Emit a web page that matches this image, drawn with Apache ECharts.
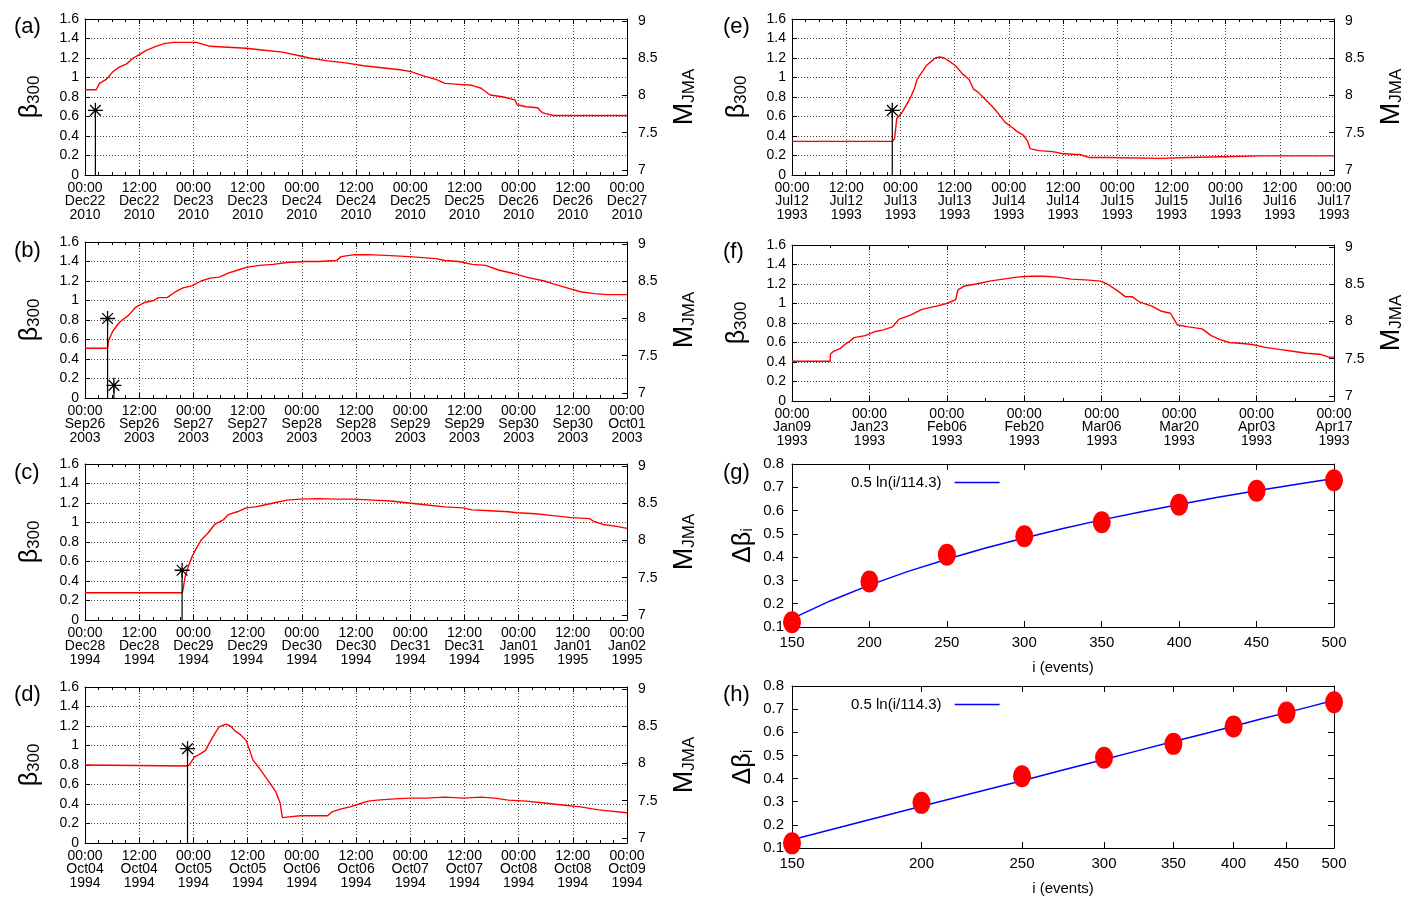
<!DOCTYPE html>
<html>
<head>
<meta charset="utf-8">
<script src="https://cdn.jsdelivr.net/npm/echarts@6/dist/echarts.min.js"></script>
<style>html,body{margin:0;padding:0;background:#fff}#c{width:1419px;height:899px}</style>
</head>
<body>
<div id="c"></div>
<script>
// ---------------- DATA ----------------
// x in hours from panel start (a-e), days from panel start (f); y = beta_300
const A_TICKS = ['00:00\nDec22\n2010','12:00\nDec22\n2010','00:00\nDec23\n2010','12:00\nDec23\n2010','00:00\nDec24\n2010','12:00\nDec24\n2010','00:00\nDec25\n2010','12:00\nDec25\n2010','00:00\nDec26\n2010','12:00\nDec26\n2010','00:00\nDec27\n2010'];
const B_TICKS = ['00:00\nSep26\n2003','12:00\nSep26\n2003','00:00\nSep27\n2003','12:00\nSep27\n2003','00:00\nSep28\n2003','12:00\nSep28\n2003','00:00\nSep29\n2003','12:00\nSep29\n2003','00:00\nSep30\n2003','12:00\nSep30\n2003','00:00\nOct01\n2003'];
const C_TICKS = ['00:00\nDec28\n1994','12:00\nDec28\n1994','00:00\nDec29\n1994','12:00\nDec29\n1994','00:00\nDec30\n1994','12:00\nDec30\n1994','00:00\nDec31\n1994','12:00\nDec31\n1994','00:00\nJan01\n1995','12:00\nJan01\n1995','00:00\nJan02\n1995'];
const D_TICKS = ['00:00\nOct04\n1994','12:00\nOct04\n1994','00:00\nOct05\n1994','12:00\nOct05\n1994','00:00\nOct06\n1994','12:00\nOct06\n1994','00:00\nOct07\n1994','12:00\nOct07\n1994','00:00\nOct08\n1994','12:00\nOct08\n1994','00:00\nOct09\n1994'];
const E_TICKS = ['00:00\nJul12\n1993','12:00\nJul12\n1993','00:00\nJul13\n1993','12:00\nJul13\n1993','00:00\nJul14\n1993','12:00\nJul14\n1993','00:00\nJul15\n1993','12:00\nJul15\n1993','00:00\nJul16\n1993','12:00\nJul16\n1993','00:00\nJul17\n1993'];
const F_TICKS = ['00:00\nJan09\n1993','00:00\nJan23\n1993','00:00\nFeb06\n1993','00:00\nFeb20\n1993','00:00\nMar06\n1993','00:00\nMar20\n1993','00:00\nApr03\n1993','00:00\nApr17\n1993'];

const A_CURVE = [[0,0.875],[2.5,0.875],[3.2,0.94],[4.7,0.98],[6.2,1.06],[7.7,1.11],[9.2,1.14],[10.7,1.20],[12.2,1.24],[13.7,1.28],[15.7,1.32],[17.7,1.35],[19.7,1.36],[21.7,1.36],[24.7,1.36],[27.7,1.32],[31.7,1.31],[35.7,1.30],[39.7,1.28],[43.7,1.26],[47.7,1.22],[49.7,1.20],[53.7,1.17],[57.7,1.15],[61.7,1.12],[65.7,1.10],[69.7,1.08],[72.2,1.06],[74.7,1.02],[77.7,0.98],[79.7,0.94],[82.7,0.93],[85.7,0.92],[87.7,0.89],[89.7,0.82],[92.7,0.80],[95.2,0.77],[95.7,0.72],[97.7,0.70],[100.2,0.69],[101.2,0.64],[103.7,0.61],[105.7,0.61],[120,0.61]];
const B_CURVE = [[0,0.51],[5,0.51],[5.2,0.59],[6.2,0.69],[7.7,0.78],[9.7,0.85],[11.2,0.93],[13.2,0.98],[15.2,1.0],[16.2,1.03],[18.2,1.03],[19.7,1.08],[21.7,1.13],[23.7,1.15],[25.7,1.20],[27.7,1.23],[29.7,1.24],[31.7,1.28],[33.7,1.31],[35.7,1.34],[38.7,1.36],[41.7,1.37],[44.7,1.39],[48.7,1.40],[51.7,1.40],[55.7,1.41],[56.7,1.45],[59.7,1.47],[62.7,1.47],[67.7,1.46],[71.7,1.45],[77.7,1.43],[79.7,1.41],[82.7,1.40],[85.7,1.37],[88.7,1.36],[91.7,1.31],[94.7,1.28],[97.7,1.24],[101.7,1.20],[103.7,1.17],[106.7,1.13],[109.7,1.09],[112.7,1.07],[115.7,1.06],[120,1.06]];
const C_CURVE = [[0,0.28],[21.5,0.28],[21.7,0.31],[22.2,0.45],[22.7,0.53],[23.7,0.65],[24.7,0.74],[25.7,0.82],[27.2,0.89],[28.7,0.98],[30.7,1.03],[31.7,1.08],[33.7,1.11],[35.7,1.15],[37.7,1.16],[39.7,1.18],[41.7,1.20],[44.7,1.23],[47.7,1.24],[51.7,1.245],[55.7,1.24],[59.7,1.24],[63.7,1.23],[67.7,1.22],[71.7,1.20],[75.7,1.18],[79.7,1.16],[83.7,1.15],[85.7,1.13],[89.7,1.12],[93.7,1.11],[95.7,1.10],[99.7,1.09],[103.7,1.07],[107.7,1.05],[111.7,1.04],[112.7,1.01],[114.7,0.98],[117.7,0.96],[120,0.94]];
const D_CURVE = [[0,0.80],[22.7,0.79],[23.2,0.81],[24.2,0.88],[25.7,0.92],[26.7,0.95],[27.7,1.04],[28.7,1.12],[29.7,1.19],[31.2,1.22],[32.2,1.20],[33.2,1.15],[34.2,1.12],[35.7,1.05],[37.2,0.85],[38.7,0.76],[40.7,0.63],[42.2,0.53],[43.2,0.41],[43.7,0.26],[45.7,0.27],[47.7,0.28],[51.7,0.28],[53.7,0.28],[54.7,0.32],[56.7,0.35],[58.7,0.37],[60.7,0.40],[62.7,0.43],[64.7,0.44],[67.7,0.45],[71.7,0.46],[75.7,0.46],[79.7,0.47],[83.7,0.46],[87.7,0.47],[90.7,0.46],[93.7,0.44],[97.7,0.43],[101.7,0.41],[105.7,0.39],[109.7,0.37],[113.7,0.34],[120,0.31]];
const E_CURVE = [[0,0.345],[22.2,0.345],[22.7,0.37],[23.2,0.58],[24.2,0.63],[25.2,0.71],[26.2,0.79],[27.2,0.90],[27.7,0.98],[28.7,1.05],[29.7,1.12],[30.7,1.16],[31.7,1.20],[32.7,1.21],[33.7,1.20],[34.7,1.17],[36.2,1.12],[37.7,1.04],[39.2,0.98],[40.2,0.88],[41.2,0.85],[42.7,0.78],[44.2,0.71],[45.7,0.63],[47.2,0.54],[48.7,0.49],[49.7,0.45],[51.2,0.41],[52.2,0.345],[52.7,0.27],[54.7,0.25],[57.7,0.24],[59.7,0.22],[62.7,0.21],[63.7,0.21],[65.7,0.18],[69.7,0.18],[81.7,0.17],[87.7,0.18],[97.7,0.19],[103.7,0.196],[120,0.196]];
const F_CURVE = [[0,0.407],[6.9,0.407],[6.95,0.48],[7.52,0.51],[8.75,0.54],[9.57,0.58],[10.38,0.61],[11.2,0.65],[13.25,0.67],[14.88,0.71],[16.52,0.73],[18.15,0.76],[19.38,0.84],[21.42,0.88],[23.47,0.94],[25.92,0.97],[27.96,1.0],[29.6,1.04],[30.0,1.14],[31.23,1.18],[33.28,1.20],[35.73,1.23],[38.18,1.25],[40.64,1.27],[43.09,1.28],[45.54,1.28],[48.0,1.27],[50.45,1.25],[53.72,1.24],[55.76,1.23],[56.99,1.20],[58.63,1.14],[60.26,1.07],[61.49,1.07],[62.71,1.02],[65.17,0.97],[66.8,0.92],[68.44,0.90],[69.67,0.78],[71.71,0.76],[74.16,0.74],[75.8,0.67],[77.43,0.63],[79.07,0.60],[81.52,0.59],[83.16,0.58],[85.61,0.55],[88.06,0.53],[90.52,0.51],[92.97,0.49],[95.42,0.48],[97.06,0.45],[98,0.45]];

// earthquakes: [time, M_JMA]
const A_EVENTS = [[2.3, 7.8]];
const B_EVENTS = [[5.0, 8.0], [6.4, 7.1]];
const C_EVENTS = [[21.5, 7.6]];
const D_EVENTS = [[22.7, 8.2]];
const E_EVENTS = [[22.2, 7.8]];
const F_EVENTS = [];

// panels g, h
const I_EVENTS = [150, 200, 250, 300, 350, 400, 450, 500];
const DBETA = [0.12, 0.295, 0.41, 0.49, 0.55, 0.625, 0.685, 0.73];
const FIT_I = [150,175,200,225,250,275,300,325,350,375,400,425,450,475,500];
const FIT_V = [0.136,0.213,0.280,0.339,0.391,0.439,0.482,0.523,0.560,0.594,0.626,0.657,0.685,0.712,0.738];
const FIT_NAME = '0.5 ln(i/114.3)';
const M_TICKS = [7, 7.5, 8, 8.5, 9];
const LOG_TICKS = [150, 200, 250, 300, 350, 400, 450, 500];

// ---------------- LAYOUT ----------------
const FONT = '"Liberation Sans", Arial, Helvetica, sans-serif';
const M_MIN = 6.93, M_MAX = 9.03;
const STAR = 'path://M-7,0L7,0M0,-7L0,7M-5,-5L5,5M-5,5L5,-5';
const ELLIPSE = 'path://M-10,0A10,10,0,1,0,10,0A10,10,0,1,0,-10,0Z';

const grids = [], xAxis = [], yAxis = [], series = [], titles = [], legends = [];
const black = {color: '#000', width: 1};
const dotted = {color: '#444', width: 1, type: [1, 2]};

function label(text, left, top) {
  titles.push({text, left, top, textStyle: {fontSize: 22, fontWeight: 'normal', fontFamily: FONT, color: '#000'}});
}

function timePanel(p) {
  const gi = grids.length;
  grids.push({left: p.left, top: p.top, width: 542, height: 156});
  const xb = xAxis.length;
  const common = {gridIndex: gi, type: 'value', min: 0, max: p.span, interval: p.step,
    axisLine: {show: true, onZero: false, lineStyle: black},
    axisTick: {show: true, inside: true, length: 5, lineStyle: black},
    minorTick: {show: true, splitNumber: p.minor, length: 3, lineStyle: black}};
  xAxis.push(Object.assign({}, common, {position: 'bottom',
    splitLine: {show: true, lineStyle: dotted},
    axisLabel: {formatter: v => p.ticks[Math.round(v / p.step)] || '', fontSize: 14, lineHeight: 13.5,
      color: '#000', margin: 6, fontFamily: FONT, showMinLabel: true, showMaxLabel: true, hideOverlap: false}}));
  xAxis.push(Object.assign({}, common, {position: 'top', splitLine: {show: false}, axisLabel: {show: false}}));
  const yl = yAxis.length;
  yAxis.push({gridIndex: gi, type: 'value', min: 0, max: 1.6, interval: 0.2, position: 'left',
    axisLine: {show: true, onZero: false, lineStyle: black},
    axisTick: {show: true, inside: true, length: 5, lineStyle: black},
    splitLine: {show: true, lineStyle: dotted},
    axisLabel: {fontSize: 14, color: '#000', margin: 6, fontFamily: FONT},
    name: '{b|β}{s|300}', nameLocation: 'middle', nameRotate: 90, nameGap: 42,
    nameTextStyle: {rich: {
      b: {fontSize: 25, fontFamily: FONT, color: '#000', verticalAlign: 'top', lineHeight: 25},
      s: {fontSize: 17, fontFamily: FONT, color: '#000', verticalAlign: 'bottom', lineHeight: 17, padding: [10, 0, 0, 0]}}}});
  yAxis.push({gridIndex: gi, type: 'value', min: M_MIN, max: M_MAX, position: 'right',
    axisLine: {show: true, onZero: false, lineStyle: black},
    axisTick: {show: true, inside: true, length: 5, lineStyle: black, customValues: M_TICKS},
    splitLine: {show: false},
    axisLabel: {fontSize: 14, color: '#000', margin: 11, fontFamily: FONT, customValues: M_TICKS},
    name: '{m|M}{s|JMA}', nameLocation: 'middle', nameRotate: 90, nameGap: 44,
    nameTextStyle: {rich: {
      m: {fontSize: 27, fontFamily: FONT, color: '#000', verticalAlign: 'top', lineHeight: 27},
      s: {fontSize: 17, fontFamily: FONT, color: '#000', verticalAlign: 'bottom', lineHeight: 17, padding: [12, 0, 0, 0]}}}});
  series.push({type: 'line', xAxisIndex: xb, yAxisIndex: yl, data: p.curve, symbol: 'none',
    lineStyle: {color: '#ff0000', width: 1.4}, silent: true, z: 3});
  p.events.forEach(ev => {
    series.push({type: 'line', xAxisIndex: xb, yAxisIndex: yl + 1, data: [[ev[0], M_MIN], [ev[0], ev[1]]],
      symbol: 'none', lineStyle: {color: '#000', width: 1.2}, silent: true, z: 4});
  });
  if (p.events.length) {
    series.push({type: 'scatter', xAxisIndex: xb, yAxisIndex: yl + 1, data: p.events, symbol: STAR, symbolSize: 15,
      itemStyle: {color: 'rgba(0,0,0,0)', borderColor: '#000', borderWidth: 1.3, opacity: 1}, silent: true, z: 5});
  }
}

function fitPanel(p) {
  const gi = grids.length;
  grids.push({left: 792, top: p.top, width: 542, height: p.height});
  const xb = xAxis.length;
  const xc = p.log
    ? {type: 'log', min: 150, max: 500, logBase: 10}
    : {type: 'value', min: 150, max: 500, interval: 50};
  const tickC = p.log ? {customValues: LOG_TICKS} : {};
  xAxis.push(Object.assign({gridIndex: gi, position: 'bottom',
    axisLine: {show: true, onZero: false, lineStyle: black},
    axisTick: Object.assign({show: true, inside: true, length: 6, lineStyle: black}, tickC),
    minorTick: {show: false}, splitLine: {show: false},
    axisLabel: Object.assign({fontSize: 15, color: '#000', margin: 8, fontFamily: FONT, showMinLabel: true, showMaxLabel: true, hideOverlap: false}, tickC),
    name: 'i (events)', nameLocation: 'middle', nameGap: 33,
    nameTextStyle: {fontSize: 15, color: '#000', fontFamily: FONT}}, xc));
  xAxis.push(Object.assign({gridIndex: gi, position: 'top',
    axisLine: {show: true, onZero: false, lineStyle: black},
    axisTick: Object.assign({show: true, inside: true, length: 6, lineStyle: black}, tickC),
    minorTick: {show: false}, splitLine: {show: false}, axisLabel: {show: false}}, xc));
  const yl = yAxis.length;
  const yc = {gridIndex: gi, type: 'value', min: 0.1, max: 0.8, interval: 0.1,
    axisLine: {show: true, onZero: false, lineStyle: black},
    axisTick: {show: true, inside: true, length: 6, lineStyle: black},
    splitLine: {show: false}};
  yAxis.push(Object.assign({}, yc, {position: 'left',
    axisLabel: {fontSize: 15, color: '#000', margin: 8, fontFamily: FONT},
    name: '{d|Δβ}{s|i}', nameLocation: 'middle', nameRotate: 90, nameGap: 36,
    nameTextStyle: {rich: {
      d: {fontSize: 25, fontFamily: FONT, color: '#000', verticalAlign: 'top', lineHeight: 25},
      s: {fontSize: 17, fontFamily: FONT, color: '#000', verticalAlign: 'bottom', lineHeight: 17, padding: [10, 0, 0, 0]}}}}));
  yAxis.push(Object.assign({}, yc, {position: 'right', axisLabel: {show: false}}));
  series.push({type: 'line', name: FIT_NAME, xAxisIndex: xb, yAxisIndex: yl,
    data: FIT_I.map((v, k) => [v, FIT_V[k]]), symbol: 'none', showSymbol: false,
    lineStyle: {color: '#0000ff', width: 1.5}, itemStyle: {color: '#0000ff'}, silent: true, z: 3});
  series.push({type: 'scatter', name: 'obs', xAxisIndex: xb, yAxisIndex: yl,
    data: I_EVENTS.map((v, k) => [v, DBETA[k]]), symbol: ELLIPSE, symbolSize: [18, 22], symbolKeepAspect: false,
    itemStyle: {color: '#ff0000', opacity: 1}, silent: true, z: 4});
  legends.push({left: 846, top: p.top + 6, data: [{name: FIT_NAME, icon: 'rect'}], align: 'right', orient: 'horizontal',
    itemWidth: 45, itemHeight: 1.5, selectedMode: false,
    itemStyle: {color: '#0000ff'},
    textStyle: {fontSize: 15, color: '#000', fontFamily: FONT, padding: [0, 8, 0, 0]}});
}

timePanel({left: 85, top: 19, span: 120, step: 12, minor: 4, ticks: A_TICKS, curve: A_CURVE, events: A_EVENTS});
timePanel({left: 85, top: 242, span: 120, step: 12, minor: 4, ticks: B_TICKS, curve: B_CURVE, events: B_EVENTS});
timePanel({left: 85, top: 464, span: 120, step: 12, minor: 4, ticks: C_TICKS, curve: C_CURVE, events: C_EVENTS});
timePanel({left: 85, top: 687, span: 120, step: 12, minor: 4, ticks: D_TICKS, curve: D_CURVE, events: D_EVENTS});
timePanel({left: 792, top: 19, span: 120, step: 12, minor: 4, ticks: E_TICKS, curve: E_CURVE, events: E_EVENTS});
timePanel({left: 792, top: 245, span: 98, step: 14, minor: 2, ticks: F_TICKS, curve: F_CURVE, events: F_EVENTS});
fitPanel({top: 464, height: 163, log: false});
fitPanel({top: 686, height: 162, log: true});

label('(a)', 9, 11); label('(b)', 9, 235); label('(c)', 9, 457); label('(d)', 9, 679);
label('(e)', 718, 11); label('(f)', 718, 236); label('(g)', 718, 457); label('(h)', 718, 679);

const chart = echarts.init(document.getElementById('c'), null, {renderer: 'canvas'});
chart.setOption({
  animation: false,
  backgroundColor: '#fff',
  textStyle: {fontFamily: FONT},
  title: titles, legend: legends, grid: grids, xAxis, yAxis, series
});
</script>
</body>
</html>
